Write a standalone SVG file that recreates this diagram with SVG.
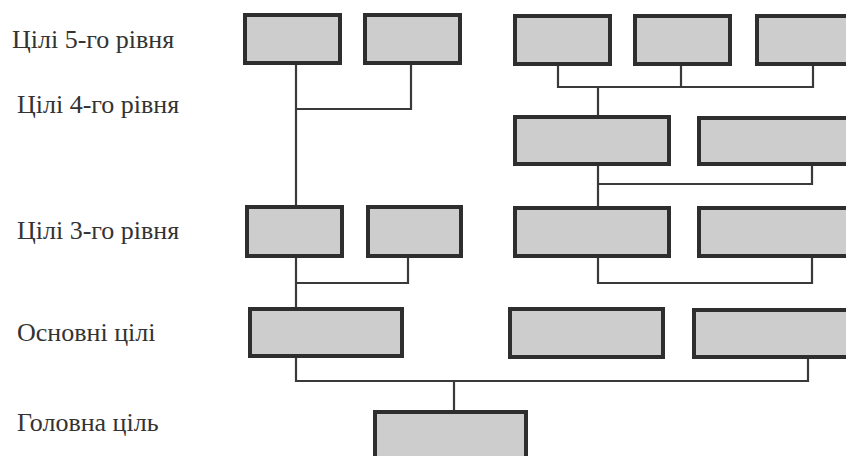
<svg xmlns="http://www.w3.org/2000/svg" width="846" height="456" viewBox="0 0 846 456">
<style>
.box{fill:#cdcdcd;stroke:#2e2e2e;stroke-width:4}
.ln{fill:none;stroke:#3a3a3a;stroke-width:2.2}
.lbl{font-family:"Liberation Serif","Times New Roman",serif;font-size:26px;fill:#333}
</style>
<rect width="846" height="456" fill="#fff"/>
<g id="labels">
<text class="lbl" x="12" y="48">Цілі 5-го рівня</text>
<text class="lbl" x="17" y="113">Цілі 4-го рівня</text>
<text class="lbl" x="17" y="239">Цілі 3-го рівня</text>
<text class="lbl" x="17" y="341">Основні цілі</text>
<text class="lbl" x="17" y="431">Головна ціль</text>
</g>
<g id="connectors">
<polyline class="ln" points="296,65 296,205"/>
<polyline class="ln" points="296,109 411,109 411,65"/>
<polyline class="ln" points="558,66 558,87 813,87 813,66"/>
<polyline class="ln" points="681,66 681,87"/>
<polyline class="ln" points="598,87 598,115"/>
<polyline class="ln" points="598,166 598,206"/>
<polyline class="ln" points="598,184 812,184 812,166"/>
<polyline class="ln" points="296,258 296,307"/>
<polyline class="ln" points="296,283 408,283 408,258"/>
<polyline class="ln" points="598,258 598,283 812,283 812,258"/>
<polyline class="ln" points="296,358 296,381 808,381 808,359"/>
<polyline class="ln" points="454,381 454,410"/>
</g>
<g id="n5a"><rect class="box" x="245" y="15" width="95" height="48"/></g>
<g id="n5b"><rect class="box" x="365" y="15" width="95" height="48"/></g>
<g id="n5c"><rect class="box" x="515" y="16" width="95" height="48"/></g>
<g id="n5d"><rect class="box" x="635" y="16" width="95" height="48"/></g>
<g id="n5e"><rect class="box" x="757" y="16" width="95" height="48"/></g>
<g id="n4a"><rect class="box" x="515" y="117" width="154" height="47"/></g>
<g id="n4b"><rect class="box" x="699" y="118" width="153" height="46"/></g>
<g id="n3a"><rect class="box" x="247" y="207" width="95" height="49"/></g>
<g id="n3b"><rect class="box" x="368" y="207" width="93" height="49"/></g>
<g id="n3c"><rect class="box" x="515" y="208" width="154" height="48"/></g>
<g id="n3d"><rect class="box" x="699" y="208" width="153" height="48"/></g>
<g id="m1"><rect class="box" x="250" y="309" width="152" height="47"/></g>
<g id="m2"><rect class="box" x="510" y="309" width="153" height="48"/></g>
<g id="m3"><rect class="box" x="694" y="310" width="158" height="47"/></g>
<g id="top"><rect class="box" x="375" y="412" width="151" height="50"/></g>
</svg>
